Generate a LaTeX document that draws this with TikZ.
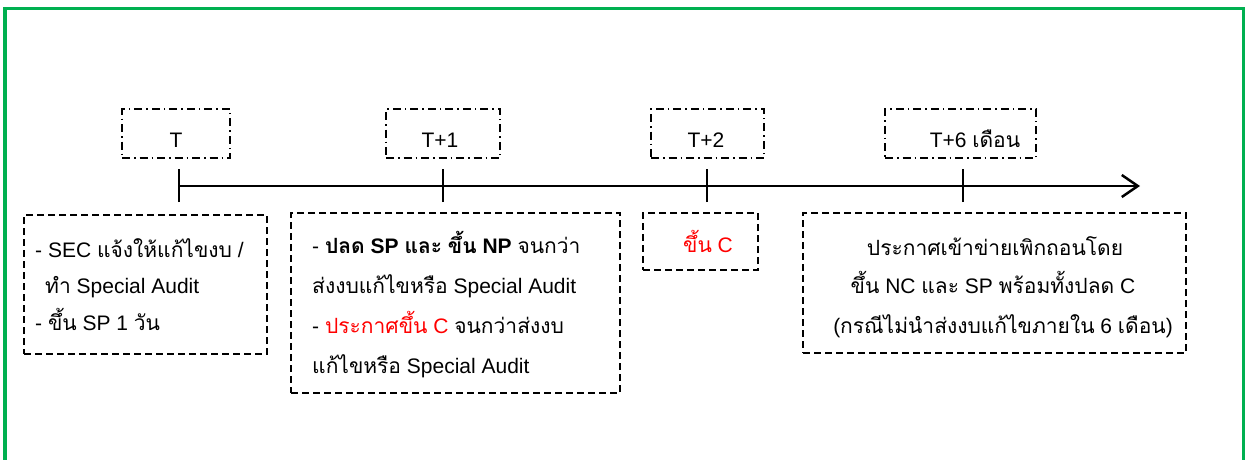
\documentclass[tikz,border=0pt]{standalone}
\usepackage{fontspec}
\setmainfont{Liberation Sans}
\newfontfamily\thai[Script=Thai]{Loma}
\usetikzlibrary{arrows.meta}
\newcommand{\tha}[1]{{\thai #1}}
\definecolor{frameGreen}{RGB}{0,176,80}
\definecolor{redText}{RGB}{255,0,0}
\begin{document}
\begin{tikzpicture}[x=1pt,y=-1pt,
  dashdotbox/.style={draw, line width=1.6pt, dash pattern=on 8pt off 4pt on 1.5pt off 4pt, minimum height=49pt, inner sep=0pt},
  dashbox/.style={draw, line width=1.6pt, dash pattern=on 7pt off 4pt, inner sep=0pt},
  txt/.style={anchor=base west, inner sep=0pt, font=\fontsize{21}{25}\selectfont},
  ctxt/.style={anchor=base, inner sep=0pt, font=\fontsize{21}{25}\selectfont},
  tickline/.style={line width=2pt},
  axis/.style={line width=2.5pt, -{Straight Barb[length=16pt,width=22pt,line width=2.5pt]}}
]
\clip (0,0) rectangle (1246,459);
\fill[white] (0,0) rectangle (1246,459);
% green frame
\draw[frameGreen, line width=3.5pt] (5,8.5) rectangle (1243.5,480);

% top label boxes
\node[dashdotbox, minimum width=108pt] (t0) at (176,133.5) {};
\node[dashdotbox, minimum width=114pt] (t1) at (443,133.5) {};
\node[dashdotbox, minimum width=113pt] (t2) at (707.5,133.5) {};
\node[dashdotbox, minimum width=151pt] (t3) at (960.5,133.5) {};
\node[ctxt] (t0l) at (176,147) {T};
\node[ctxt] (t1l) at (440,147) {T+1};
\node[ctxt] (t2l) at (706,147) {T+2};
\node[ctxt] (t3l) at (975,147) {T+6 \tha{เดือน}};

% timeline
\coordinate (k0) at (179,186);
\coordinate (k1) at (443,186);
\coordinate (k2) at (707,186);
\coordinate (k3) at (963,186);
\coordinate (kend) at (1140,186);
\draw[axis] (k0) -- (kend);
\foreach \k in {k0,k1,k2,k3}{
  \draw[tickline] ([yshift=-16pt]\k) -- ([yshift=17pt]\k);
}

% bottom boxes
\node[dashbox, minimum width=243pt, minimum height=139pt] (b1) at (145.5,284.5) {};
\node[dashbox, minimum width=329pt, minimum height=180pt] (b2) at (455.5,303) {};
\node[dashbox, minimum width=115pt, minimum height=57pt] (b3) at (700.5,241.5) {};
\node[dashbox, minimum width=383pt, minimum height=140pt] (b4) at (994.5,283) {};

% box 1 text
\node[txt] (b1l1) at (35,257) {- SEC \tha{แจ้งให้แก้ไขงบ} /};
\node[txt] (b1l2) at (45,293) {\tha{ทำ} Special Audit};
\node[txt] (b1l3) at (35,330) {- \tha{ขึ้น} SP 1 \tha{วัน}};

% box 2 text
\node[txt] (b2l1) at (312,253) {- \textbf{\tha{ปลด} SP \tha{และ} \tha{ขึ้น} NP} \tha{จนกว่า}};
\node[txt] (b2l2) at (312,293) {\tha{ส่งงบแก้ไขหรือ} Special Audit};
\node[txt] (b2l3) at (312,333) {- \textcolor{redText}{\tha{ประกาศขึ้น} C} \tha{จนกว่าส่งงบ}};
\node[txt] (b2l4) at (312,373) {\tha{แก้ไขหรือ} Special Audit};

% box 3 text
\node[ctxt, text=redText] (b3l1) at (708,252) {\tha{ขึ้น} C};

% box 4 text
\node[ctxt] (b4l1) at (995,255) {\tha{ประกาศเข้าข่ายเพิกถอนโดย}};
\node[ctxt] (b4l2) at (993,293) {\tha{ขึ้น} NC \tha{และ} SP \tha{พร้อมทั้งปลด} C};
\node[ctxt] (b4l3) at (1003,333) {(\tha{กรณีไม่นำส่งงบแก้ไขภายใน} 6 \tha{เดือน})};
\end{tikzpicture}
\end{document}
